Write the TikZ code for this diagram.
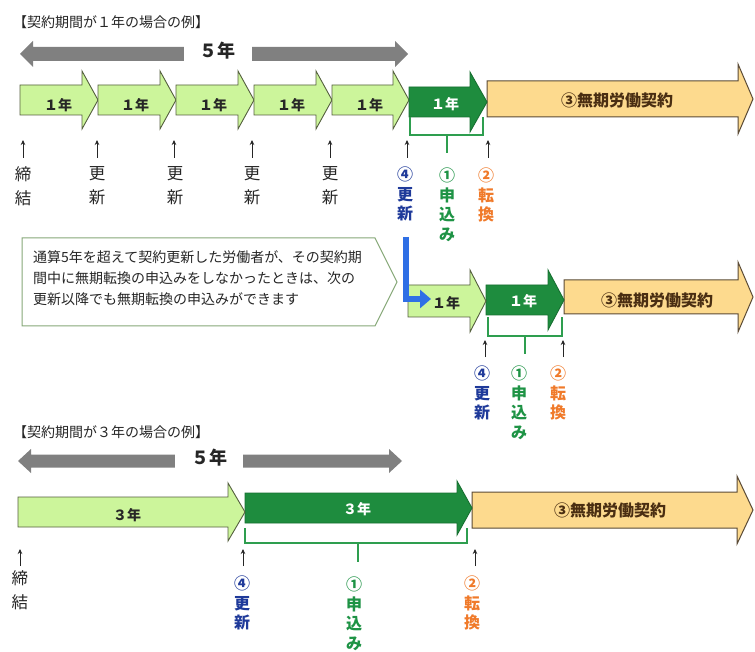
\documentclass[tikz,border=0pt]{standalone}
\usepackage{fontspec}
\setmainfont{Noto Sans CJK JP}
\usetikzlibrary{arrows.meta}
\definecolor{lgreen}{HTML}{CCF59B}
\definecolor{lgborder}{HTML}{55603F}
\definecolor{dgreen}{HTML}{1E8C3E}
\definecolor{tanfill}{HTML}{FDDA8E}
\definecolor{tanborder}{HTML}{5B4B36}
\definecolor{grayarr}{HTML}{808080}
\definecolor{txt}{HTML}{262626}
\definecolor{bluetxt}{HTML}{1F3A9A}
\definecolor{greentxt}{HTML}{1E9345}
\definecolor{orangetxt}{HTML}{F07A2A}
\definecolor{brkcol}{HTML}{2E9E4F}
\definecolor{bluearr}{HTML}{2F6FE5}
\definecolor{callborder}{HTML}{86A878}
\definecolor{browntxt}{HTML}{4A2E12}
\newcommand{\blockarrow}[7]{% style, x0, xh, xt, yc, bh, hh
  \draw[#1] (#2,{#5-#6}) -- (#3,{#5-#6}) -- (#3,{#5-#7}) -- (#4,#5) -- (#3,{#5+#7}) -- (#3,{#5+#6}) -- (#2,{#5+#6}) -- cycle;}
\newcommand{\grayspan}[6]{% x0, x1, yc, bh, hh, hl
  \fill[grayarr] (#1,#3) -- ({#1+#6},{#3-#5}) -- ({#1+#6},{#3-#4}) -- ({#2-#6},{#3-#4}) -- ({#2-#6},{#3-#5}) -- (#2,#3) -- ({#2-#6},{#3+#5}) -- ({#2-#6},{#3+#4}) -- ({#1+#6},{#3+#4}) -- ({#1+#6},{#3+#5}) -- cycle;}
\tikzset{
  light/.style={fill=lgreen, draw=lgborder, line width=0.9pt, line join=miter},
  dark/.style={fill=dgreen, draw=dgreen!80!black, line width=0.9pt},
  tanarr/.style={fill=tanfill, draw=tanborder, line width=1pt},
  yearlab/.style={font=\bfseries\fontsize{14}{14}\selectfont, text=txt, inner sep=0},
  yearwhite/.style={font=\bfseries\fontsize{14}{14}\selectfont, text=white, inner sep=0},
  mukilab/.style={font=\bfseries\fontsize{16}{16}\selectfont, text=browntxt, inner sep=0},
  fivelab/.style={font=\bfseries\fontsize{18}{18}\selectfont, text=txt, fill=white, inner sep=0},
  titlelab/.style={font=\fontsize{14}{14}\selectfont, text=txt, inner sep=0, anchor=west},
  vlab/.style={align=center, inner sep=0, anchor=north, font=\fontsize{16.5}{24}\selectfont, text=txt},
  clab/.style={align=center, inner sep=0, anchor=north, font=\bfseries\fontsize{16}{19.5}\selectfont},
  uparr/.style={draw=txt, line width=0.7pt, -{Stealth[length=5pt,width=4.5pt]}},
  brk/.style={draw=brkcol, line width=2.2pt},
}
\begin{document}
\begin{tikzpicture}[x=1pt,y=-1pt]
\useasboundingbox (0,0) rectangle (755,652);
\fill[white] (0,0) rectangle (755,652);

% ===== Row 1 =====
\node[titlelab] (t1) at (13,22) {【契約期間が１年の場合の例】};
\grayspan{20}{408}{54}{7}{13}{13}
\node[fivelab, minimum width=68, minimum height=22] (five1) at (217.5,51) {５年};

\blockarrow{light}{20}{82}{98}{100}{15}{29}
\blockarrow{light}{98}{160}{176}{100}{15}{29}
\blockarrow{light}{176}{238}{254}{100}{15}{29}
\blockarrow{light}{254}{316}{332}{100}{15}{29}
\blockarrow{light}{332}{393}{409}{100}{15}{29}
\blockarrow{tanarr}{487}{738}{753}{99}{18}{35}
\blockarrow{dark}{409}{470}{487}{102}{15}{30}

\node[yearlab] (a1) at (58,105) {１年};
\node[yearlab] (a2) at (135,105) {１年};
\node[yearlab] (a3) at (213,105) {１年};
\node[yearlab] (a4) at (291,105) {１年};
\node[yearlab] (a5) at (369,105) {１年};
\node[yearwhite] (a6) at (445,104) {１年};
\node[mukilab] (m1) at (617,100) {③無期労働契約};

\draw[brk] (410,117) -- (410,135) -- (483,135) -- (483,117);
\draw[brk] (447,135) -- (447,153);

\node[vlab] (l1) at (23,166) {締\\結};
\node[vlab] (l2) at (97,166) {更\\新};
\node[vlab] (l3) at (175,166) {更\\新};
\node[vlab] (l4) at (252,166) {更\\新};
\node[vlab] (l5) at (330,166) {更\\新};
\node[clab, text=bluetxt] (r1) at (405,167) {④\\更\\新};
\node[clab, text=greentxt] (s1) at (447,168) {①\\申\\込\\み};
\node[clab, text=orangetxt] (c1) at (486,168) {②\\転\\換};

\foreach \n/\x in {l1/23,l2/97,l3/174,l4/252,l5/330,r1/407,c1/488}{
  \coordinate (\n top) at (\x,140);
  \draw[uparr] (\x,158) -- (\n top);
}

% ===== Callout =====
\draw[callborder, line width=1pt, fill=white] (22,238) -- (375,238) -- (397,282) -- (375,326) -- (22,326) -- cycle;
\node[align=left, anchor=north west, inner sep=0, text=txt, font=\fontsize{14}{21}\selectfont] (note) at (33,250)
 {通算5年を超えて契約更新した労働者が、その契約期\\間中に無期転換の申込みをしなかったときは、次の\\更新以降でも無期転換の申込みができます};

% ===== Row 2 =====
\blockarrow{tanarr}{564}{738}{753}{297}{17}{35}
\blockarrow{dark}{486}{548}{564}{300}{15}{30}
\blockarrow{light}{408}{470}{486}{301}{16}{31}

\coordinate (bstart) at (406,237);
\coordinate (bturn) at (406,299);
\coordinate (bend) at (431,299);
\draw[bluearr, line width=6.5pt, -{Triangle[length=11pt,width=18pt]}] (bstart) -- (bturn) -- (bend);

\node[yearlab] (b1) at (446,303) {１年};
\node[yearwhite] (b2) at (523,301) {１年};
\node[mukilab] (m2) at (657,300) {③無期労働契約};

\draw[brk] (488,317) -- (488,336) -- (562,336) -- (562,317);
\draw[brk] (525,336) -- (525,354);

\node[clab, text=bluetxt] (r2) at (482,366) {④\\更\\新};
\node[clab, text=greentxt] (s2) at (519,366) {①\\申\\込\\み};
\node[clab, text=orangetxt] (c2) at (558,366) {②\\転\\換};
\foreach \n/\x in {r2/485,c2/563}{
  \coordinate (\n top) at (\x,340);
  \draw[uparr] (\x,357) -- (\n top);
}

% ===== Row 3 =====
\node[titlelab] (t2) at (13,432) {【契約期間が３年の場合の例】};
\grayspan{18}{402}{461}{6.5}{12}{13}
\node[fivelab, minimum width=68, minimum height=22] (five2) at (209,458) {５年};

\blockarrow{tanarr}{472}{737}{753}{510}{18}{34}
\blockarrow{dark}{245}{457}{472}{508}{15}{27}
\blockarrow{light}{18}{228}{245}{512}{15}{29}

\node[yearlab] (d1) at (127,515) {３年};
\node[yearwhite] (d2) at (357,509) {３年};
\node[mukilab] (m3) at (610,510) {③無期労働契約};

\draw[brk] (245,528) -- (245,543) -- (467,543) -- (467,528);
\draw[brk] (358,543) -- (358,562);

\node[vlab] (l6) at (20,570) {締\\結};
\node[clab, text=bluetxt] (r3) at (242,576) {④\\更\\新};
\node[clab, text=greentxt] (s3) at (354,577) {①\\申\\込\\み};
\node[clab, text=orangetxt] (c3) at (472,576) {②\\転\\換};
\foreach \n/\x in {l6/20,r3/243,c3/475}{
  \coordinate (\n top) at (\x,549);
  \draw[uparr] (\x,566) -- (\n top);
}
\end{tikzpicture}
\end{document}
